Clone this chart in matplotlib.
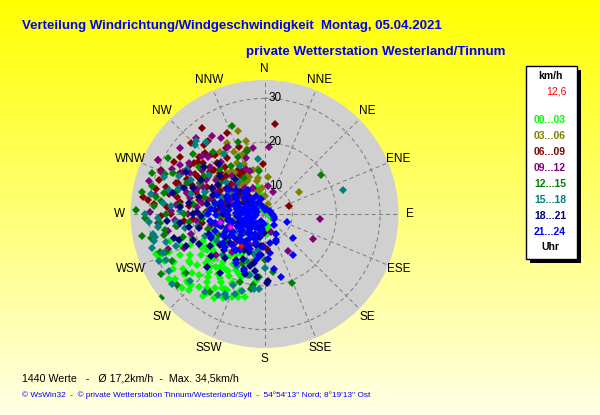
import numpy as np
import matplotlib
matplotlib.use("Agg")
import matplotlib.pyplot as plt
from matplotlib.patches import Rectangle

plt.rcParams['font.family'] = ['Liberation Sans', 'DejaVu Sans']
plt.rcParams['lines.scale_dashes'] = False

# ---------------- data (direction in degrees, speed in km/h) ----------------
directions = ["N", "NNE", "NE", "ENE", "E", "ESE", "SE", "SSE",
              "S", "SSW", "SW", "WSW", "W", "WNW", "NW", "NNW"]
ring_values = [10, 20, 30]
hour_labels = ["00...03", "03...06", "06...09", "09...12",
               "12...15", "15...18", "18...21", "21...24"]
hour_colors = ["#00ff00", "#808000", "#800000", "#800080",
               "#008000", "#008080", "#000080", "#0000ff"]
current_speed = 12.6
current_dir = 216
n_values = 1440
mean_speed = "17,2"
max_speed = "34,5"

lime = [(346, 10.0), (348, 8.5), (165, 6.7), (173, 8.2), (168, 6.4), (175, 8.0), (45, 4.5),
        (60, 4.8), (203, 6.8), (196, 9.8), (299, 9.7), (120, 5.2), (90, 4.6), (15, 4.4),
        (305, 7.5), (315, 5.8), (330, 5.2), (240, 6.9), (256, 15.7), (245, 16.8), (276, 12.0),
        (229, 18.5), (210, 17.0),
        (198, 22), (200, 19), (201, 24), (203, 16), (204, 21), (206, 25), (207, 18), (208, 23),
        (209, 14), (210, 20), (211, 26), (212, 17), (213, 22), (214, 24), (215, 15), (216, 19),
        (217, 27), (218, 21), (219, 16), (220, 24), (221, 18), (222, 26), (223, 20), (224, 22),
        (225, 28), (226, 17), (227, 24), (228, 19), (229, 27), (230, 21), (231, 25), (232, 15),
        (233, 23), (234, 29), (235, 18), (236, 26), (237, 21), (238, 24), (239, 28), (240, 17),
        (241, 23), (242, 27), (243, 20), (244, 25), (245, 29), (246, 19), (247, 22), (248, 27),
        (249, 24), (250, 30), (252, 21), (254, 26), (256, 16), (245, 16), (236, 30), (228, 29),
        (218, 25), (210, 23), (205, 21), (213, 19), (222, 23), (231, 20), (238, 19), (226, 21),
        (243, 27.3), (237, 24.0), (248, 29.6), (228, 27.0), (226, 27.0), (216, 26.0), (198, 23.5),
        (206, 23.0), (220, 19.5), (233, 26.5), (241, 19.0), (215, 21.5), (203, 18.5),
        (190, 20.5), (193, 23.0), (187, 19.0)]

olive = [(323, 15.5), (325, 15.0), (327, 14.5), (329, 14.0), (331, 13.5), (333, 13.0), (334, 12.6),
         (332, 12.2), (329, 12.0), (326, 12.0), (322, 12.2), (318, 12.4), (314, 12.5), (310, 12.6),
         (306, 12.8), (336, 13.3), (338, 12.8), (320, 16.0), (317, 16.5),
         (334, 19.3), (340, 18.1), (345, 18.9), (347, 11.3), (344, 9.0), (345, 7.6), (321, 7.8),
         (332, 16.8), (338, 16.0), (352, 14.0), (0, 7.7), (355, 9.5), (319, 12.8), (325, 12.9),
         (58, 13.0), (324, 21.0), (332, 22.0), (308, 17.3), (203, 7.3), (195, 14.9), (270, 7.0),
         (290, 8.0), (300, 10.5), (315, 10.0), (335, 10.0), (350, 12.0), (310, 20.0), (300, 15.0),
         (285, 12.0), (20, 6.0), (346, 20.7), (345, 14.0), (305, 6.8), (342, 23.5), (5, 12.0),
         (250, 9.0), (265, 13.0), (290, 18.0), (280, 10.0)]

maroon = [(7, 24.2), (72, 9.5), (358, 15.0), (176, 11.6), (183, 11.0), (278, 31.6), (277, 30.3),
          (293, 29.2), (297, 31.0), (300, 27.5), (290, 24.5), (311, 23.5), (319, 24.5), (306, 23.6),
          (308, 23.0), (305, 21.0), (278, 23.0), (322, 24.7), (319, 21.9), (320, 21.2), (339, 20.0),
          (344, 18.5), (310, 21.8), (317, 19.5), (313, 17.4), (331, 15.4), (334, 14.5), (316, 23.0),
          (308, 19.3), (310, 16.0), (328, 14.0), (269, 27.3), (285, 27.0), (288, 20.0), (295, 18.0),
          (300, 22.0), (302, 16.0), (305, 13.0), (312, 14.0), (318, 11.0), (325, 10.0), (298, 12.0),
          (292, 14.0), (286, 16.0), (282, 19.0), (276, 21.0), (272, 17.0), (280, 13.0), (290, 10.0),
          (300, 9.0), (310, 8.0), (320, 9.0), (265, 22.0), (262, 18.0), (268, 12.0), (258, 15.0),
          (296, 25.0), (304, 27.0), (314, 27.0), (326, 19.0), (330, 21.0), (335, 24.0), (324, 28.0),
          (288, 29.0), (282, 26.0), (270, 25.0), (275, 29.0), (296, 20.0), (315, 16.0), (307, 11.0),
          (313, 8.7), (303, 19.0), (298, 15.0), (292, 21.5), (320, 17.5),
          (285, 22.0), (289, 25.0), (294, 23.0), (299, 21.0), (303, 24.0), (311, 19.0),
          (296, 17.0), (287, 13.0), (281, 24.0), (274, 26.0), (266, 20.0), (283, 29.0)]

purple = [(95, 16.3), (117, 16.0), (147, 13.6), (4, 18.9), (330, 23.6), (331, 21.0), (297, 31.0),
          (271, 29.8), (296, 27.0), (297, 24.5), (304, 24.5), (313, 23.1), (315, 22.0), (338, 14.7),
          (342, 14.0), (262, 23.7), (247, 23.6), (196, 9.0), (205, 11.5), (225, 13.0), (292, 29.0),
          (300, 19.0), (310, 17.0), (320, 15.0), (305, 21.0), (285, 22.0), (280, 18.0), (275, 14.0),
          (268, 10.0), (290, 12.0), (300, 12.0), (310, 10.0), (320, 19.0), (326, 25.0), (318, 27.0),
          (308, 28.0), (283, 26.0), (276, 24.0), (264, 19.0), (258, 16.0), (252, 12.0), (240, 10.0),
          (285, 8.0), (295, 16.0), (303, 14.0), (316, 13.0), (324, 11.0), (336, 10.0), (342, 17.0),
          (350, 19.0), (8, 10.0), (20, 9.0), (160, 8.0), (286, 31.0), (280, 29.0), (265, 28.0),
          (255, 21.0), (300, 26.0), (311, 20.0), (230, 18.0), (220, 15.0), (290, 20.0), (270, 21.0),
          (282, 21.0), (288, 24.0), (294, 19.0), (299, 23.0), (305, 17.0), (276, 19.0), (272, 25.0),
          (266, 24.0), (284, 17.0), (260, 26.0), (250, 27.0)]

green = [(340, 25.0), (272, 33.0), (231, 34.0), (55, 19.3), (158, 20.6), (345, 18.6), (294, 26.4),
         (284, 24.5), (279, 28.6), (277, 27.5), (292, 22.6), (261, 26.5), (265, 27.5), (243, 27.3),
         (231, 29.2), (249, 27.8), (233, 26.1), (215, 25.4), (200, 20.2), (190, 21.0), (189, 20.0),
         (195, 18.0), (205, 16.0), (215, 13.0), (225, 12.0), (235, 14.0), (245, 15.0), (255, 17.0),
         (265, 18.0), (275, 16.0), (285, 14.0), (295, 13.0), (305, 16.0), (315, 18.0), (320, 22.0),
         (310, 25.0), (300, 29.0), (290, 31.0), (280, 32.0), (268, 31.0), (258, 30.0), (250, 29.0),
         (240, 31.0), (254, 23.0), (262, 24.0), (270, 22.0), (278, 20.0),
         (286, 18.0), (296, 20.0), (306, 22.0), (268, 14.0), (258, 11.0), (248, 9.0), (238, 8.0),
         (228, 10.0), (218, 9.0), (280, 10.0), (290, 8.0), (300, 7.0), (330, 13.0), (335, 18.0),
         (340, 21.0), (325, 17.0), (172, 17.0), (180, 14.0), (185, 18.0), (353, 13.5),
         (274, 29.0), (282, 27.0), (287, 24.0), (292, 28.0), (298, 24.0), (302, 20.0), (276, 23.0),
         (270, 26.0), (264, 21.0), (258, 27.0), (260, 32.0), (284, 30.0), (289, 16.0)]

teal = [(253, 30.4), (258, 29.1), (263, 28.0), (256, 29.5), (239, 29.0), (233, 30.0), (228, 26.4),
        (245, 28.5), (184, 20.7), (205, 24.5), (217, 26.0), (206, 24.0), (204, 21.3), (193, 17.9),
        (196, 22.0), (188, 21.0), (73, 22.3), (353, 16.2), (317, 26.4), (321, 24.7), (315, 25.9),
        (290, 28.0), (280, 30.0), (270, 31.0), (265, 24.0), (260, 22.0), (250, 25.0),
        (225, 17.0), (208, 17.0),
        (200, 15.0), (195, 13.0), (215, 12.0), (230, 14.0), (240, 16.0), (250, 18.0), (260, 19.0),
        (270, 17.0), (280, 15.0), (290, 14.0), (300, 13.0), (310, 15.0), (320, 13.0), (285, 21.0),
        (295, 22.0), (305, 19.0), (275, 25.0), (268, 28.0), (248, 13.0), (238, 11.0), (225, 9.0),
        (260, 12.0), (270, 10.0), (280, 9.0), (290, 18.0), (300, 24.0), (326, 20.0), (333, 16.0),
        (190, 12.0), (180, 16.0), (260, 29.4), (249, 28.4),
        (276, 27.0), (284, 26.0), (294, 25.0), (286, 24.0), (272, 23.0), (266, 30.0), (254, 27.0),
        (246, 30.0), (210, 25.0), (200, 23.0)]

navy = [(227, 21.5), (217, 20.4), (178, 19.3), (189, 16.8), (177, 19.0), (200, 17.0), (205, 15.0),
        (210, 13.0), (215, 11.0), (220, 9.0), (225, 12.0), (230, 14.0), (235, 16.0), (240, 18.0),
        (245, 20.0), (250, 17.0), (255, 14.0), (260, 12.0), (265, 10.0), (270, 13.0), (275, 15.0),
        (280, 17.0), (285, 19.0), (290, 16.0), (295, 13.0), (300, 11.0), (305, 14.0), (310, 17.0),
        (245, 12.0), (235, 10.0), (225, 8.0), (215, 7.0), (205, 9.0), (195, 11.0), (185, 13.0),
        (232, 19.0), (222, 17.0), (212, 16.0), (202, 13.0), (192, 9.0), (182, 8.0),
        (248, 23.0), (258, 19.0), (268, 18.0), (278, 21.0), (288, 23.0), (298, 20.0), (308, 21.0),
        (318, 19.0), (262, 16.0), (252, 10.0), (242, 8.0),
        (272, 9.0), (282, 12.0), (292, 10.0), (302, 8.0), (312, 11.0), (320, 14.0), (240, 14.0),
        (228, 16.0), (218, 14.0), (208, 12.0), (198, 18.0), (196, 16.0), (186, 11.0), (270, 20.0),
        (255, 25.0), (264, 23.0), (250, 21.0), (192, 15.0), (187, 18.0),
        (275, 23.0), (283, 25.0), (290, 21.0), (296, 17.0), (302, 16.0), (280, 14.0), (272, 19.0),
        (266, 26.0), (260, 21.0), (253, 24.0), (246, 17.0), (298, 24.0)]

blue = [(60, 5.0), (80, 5.2), (100, 5.5), (108, 5.9), (120, 6.1), (140, 7.0), (150, 9.0), (156, 10.0),
        (158, 10.4), (165, 18.5), (169, 10.3), (170, 16.3), (172, 12.5), (175, 14.0), (183, 11.1),
        (188, 13.0), (190, 7.0), (190, 14.0), (200, 17.5), (209, 11.7), (210, 16.5), (130, 12.0),
        (145, 15.0), (110, 9.0),
        (185, 6.0), (192, 8.3), (196, 10.5), (199, 6.4), (203, 12.2), (206, 8.8), (208, 5.5),
        (211, 10.1), (214, 13.5), (216, 7.4), (219, 11.6), (221, 9.2), (224, 6.3), (226, 13.8),
        (228, 10.7), (231, 8.1), (233, 12.4), (235, 15.1), (237, 6.9), (239, 9.8), (241, 11.9),
        (243, 14.2), (245, 7.7), (247, 10.4), (249, 12.8), (251, 15.6), (253, 8.9), (255, 6.2),
        (257, 11.3), (259, 13.7), (261, 9.5), (263, 16.1), (265, 7.3), (267, 12.1), (269, 14.6),
        (271, 10.2), (273, 8.0), (275, 15.8), (277, 11.7), (279, 13.2), (281, 6.6), (283, 9.4),
        (285, 14.0), (287, 11.0), (289, 7.9), (291, 12.6), (293, 10.1), (296, 13.1), (298, 8.5),
        (301, 11.4), (304, 6.8), (307, 9.6), (310, 12.0), (314, 7.5), (318, 10.3), (322, 8.0),
        (326, 10.2), (330, 6.5), (335, 8.2), (340, 5.8), (345, 7.1), (350, 5.2), (0, 4.5),
        (20, 4.8), (200, 9.7), (212, 6.7), (223, 11.9), (234, 10.3), (244, 9.1), (250, 6.9),
        (256, 14.3), (262, 11.9), (268, 9.1), (274, 12.8), (280, 9.9), (286, 8.4), (292, 15.2),
        (298, 11.0), (305, 13.5), (315, 9.0), (238, 13.0), (230, 15.5), (220, 14.2), (248, 16.8),
        (258, 8.0), (266, 5.6), (276, 7.0), (288, 5.3), (300, 5.9), (246, 13.3), (236, 8.4),
        (226, 7.1), (218, 9.0), (205, 7.2), (215, 11.5), (270, 16.5), (260, 15.0), (282, 15.2)]

fuchsia = [(249, 12.0), (260, 13.9)]

groups = [lime, olive, maroon, purple, green, teal, navy, blue]

# ---------------- figure ----------------
W, H = 600, 415
fig = plt.figure(figsize=(W / 100, H / 100), dpi=100)

# background gradient yellow -> pale yellow
bg = fig.add_axes([0, 0, 1, 1])
grad = np.linspace(0, 1, 256)[:, None]
img = np.zeros((256, 2, 3))
img[..., 0] = 1.0
img[..., 1] = 1.0
img[..., 2] = (0.0 + 0.90 * grad) * np.ones((1, 2))
bg.imshow(img, aspect='auto', extent=[0, 1, 0, 1], origin='upper')
bg.set_xlim(0, 1)
bg.set_ylim(0, 1)
bg.axis('off')

# polar axes: centre (264.5, 214) px, radius 134 px
cx, cy, rad = 264.5, 214, 134
ax = fig.add_axes([(cx - rad) / W, (H - cy - rad) / H, 2 * rad / W, 2 * rad / H],
                  projection='polar')
ax.set_theta_zero_location('N')
ax.set_theta_direction(-1)
rmin, rmax = 3.6, 34.2
ax.set_rlim(rmin, rmax)
ax.set_facecolor('#d0d0d0')
ax.spines['polar'].set_visible(False)
ax.set_axisbelow(True)

ax.set_thetagrids(np.arange(0, 360, 22.5), [''] * 16)
ax.set_rgrids(ring_values, [''] * len(ring_values))
ax.grid(True, color='#808080', linestyle=(0, (2.9, 2.2)), linewidth=0.75)
ax.tick_params(length=0)

# direction labels
lab_r = rmin + (rmax - rmin) * 145 / 134
for i, d in enumerate(directions):
    ax.text(np.deg2rad(i * 22.5), lab_r, d, ha='center', va='center',
            fontsize=8.5, color='black', clip_on=False)

# ring labels
for v in ring_values:
    ax.annotate(str(v), xy=(0, v), xytext=(3, 0), textcoords='offset points',
                ha='left', va='center', fontsize=8.5, color='black')

# points
for pts, col in zip(groups, hour_colors):
    arr = np.array(pts, dtype=float)
    ax.plot(np.deg2rad(arr[:, 0]), arr[:, 1], ls='none', marker='D', ms=3.6,
            mew=0, color=col, clip_on=True)
fa = np.array(fuchsia, dtype=float)
ax.plot(np.deg2rad(fa[:, 0]), fa[:, 1], ls='none', marker='D', ms=3.2, mew=0, color='#ff00ff')
ax.plot([np.deg2rad(current_dir)], [current_speed], ls='none', marker='D', ms=3.2, mew=0,
        color='#ff0000')

# ---------------- texts ----------------
renderer = fig.canvas.get_renderer()


def fit_text(x_px, y_px, s, target_w, **kw):
    t = fig.text(x_px / W, 1 - y_px / H, s, **kw)
    w = t.get_window_extent(renderer).width
    t.set_fontsize(t.get_fontsize() * target_w / w)
    return t


fit_text(22, 29.5, "Verteilung Windrichtung/Windgeschwindigkeit  Montag, 05.04.2021", 423,
         fontsize=10, fontweight='bold', color='#0000ff', va='baseline', ha='left')
fit_text(246, 54.5, "private Wetterstation Westerland/Tinnum", 261,
         fontsize=10, fontweight='bold', color='#0000ff', va='baseline', ha='left')
fit_text(22, 381, f"{n_values} Werte   -   Ø {mean_speed}km/h  -  Max. {max_speed}km/h", 216,
         fontsize=8, color='black', va='baseline', ha='left')
fit_text(22, 396.5,
         "© WsWin32  -  © private Wetterstation Tinnum/Westerland/Sylt  -  54°54'13'' Nord; 8°19'13'' Ost",
         349, fontsize=5.5, color='#0000ff', va='baseline', ha='left')

# ---------------- legend box ----------------
bx0, bx1, by0, by1 = 526, 577, 66, 259
shadow = Rectangle(((bx0 + 4) / W, 1 - (by1 + 4) / H), (bx1 - bx0) / W, (by1 - by0) / H,
                   transform=fig.transFigure, facecolor='black', edgecolor='none', zorder=5)
box = Rectangle((bx0 / W, 1 - by1 / H), (bx1 - bx0) / W, (by1 - by0) / H,
                transform=fig.transFigure, facecolor='white', edgecolor='black', lw=1, zorder=6)
fig.patches.extend([shadow, box])

lx = 550
fig.text(lx / W, 1 - 76 / H, "km/h", ha='center', va='center', fontsize=7.5,
         fontweight='bold', color='black', zorder=7)
fig.text(567 / W, 1 - 92 / H, str(current_speed).replace('.', ','), ha='right', va='center',
         fontsize=7.5, color='#ff0000', zorder=7)
for i, (lab, col) in enumerate(zip(hour_labels, hour_colors)):
    fig.text(lx / W, 1 - (120 + 16 * i) / H, lab, ha='center', va='center', fontsize=7.5,
             fontweight='bold', color=col, zorder=7)
fig.text(lx / W, 1 - 247 / H, "Uhr", ha='center', va='center', fontsize=7.5,
         fontweight='bold', color='black', zorder=7)

fig.savefig("out.png", dpi=100)
